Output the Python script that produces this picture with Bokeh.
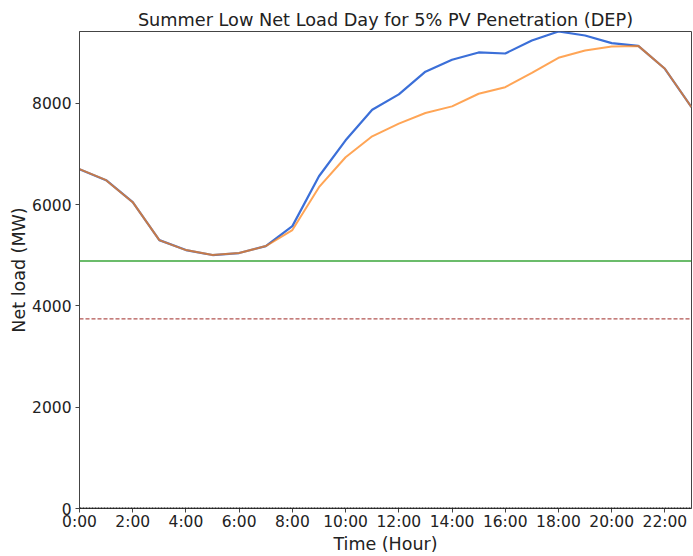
from bokeh.plotting import figure
from bokeh.models import FixedTicker, Range1d, Span
from bokeh.embed import file_html
from bokeh.resources import INLINE

hours = list(range(24))
net_load_base = [6700, 6483, 6049, 5300, 5103, 5005, 5044, 5182, 5576, 6561, 7271,
                 7875, 8177, 8625, 8860, 9005, 8985, 9241, 9419, 9340, 9190, 9135,
                 8683, 7925]
net_load_pv = [6700, 6483, 6049, 5300, 5103, 5005, 5044, 5182, 5498, 6345, 6936,
               7350, 7600, 7810, 7941, 8190, 8320, 8600, 8900, 9044, 9123, 9135,
               8683, 7925]
min_load_level = 4887
threshold_level = 3744
zero_level = 0
x_ticks = list(range(0, 24, 2))
x_labels = ["%d:00" % h for h in x_ticks]
y_ticks = [0, 2000, 4000, 6000, 8000]

FONT = "DejaVu Sans"

p = figure(width=693, height=556, output_backend="svg", toolbar_location=None,
           x_range=Range1d(0, 23), y_range=Range1d(0, max(net_load_base)),
           title="Summer Low Net Load Day for 5% PV Penetration (DEP)",
           min_border_left=79, min_border_right=2, min_border_top=31, min_border_bottom=2)

p.title.text_font = FONT
p.title.text_font_size = "17.7px"
p.title.text_font_style = "normal"
p.title.align = "center"
p.title.text_color = "#222222"
p.title.standoff = 4

p.line(hours, net_load_base, line_color="#3b6fd8", line_width=2.2)
p.line(hours, net_load_pv, line_color="#ff7f0e", line_alpha=0.7, line_width=2)

p.add_layout(Span(location=min_load_level, dimension="width", line_color="#2ca02c",
                  line_alpha=0.7, line_width=2))
p.add_layout(Span(location=threshold_level, dimension="width", line_color="#9e2a26",
                  line_width=1, line_dash="4 2"))
p.add_layout(Span(location=zero_level, dimension="width", line_color="black",
                  line_width=2, line_dash="2 1"))

p.xgrid.visible = False
p.ygrid.visible = False
p.outline_line_color = "#444444"
p.outline_line_width = 1

p.xaxis.ticker = FixedTicker(ticks=x_ticks)
p.xaxis.major_label_overrides = {t: l for t, l in zip(x_ticks, x_labels)}
p.yaxis.ticker = FixedTicker(ticks=y_ticks)
for ax in (p.xaxis, p.yaxis):
    ax.minor_tick_line_color = None
    ax.major_tick_in = 0
    ax.major_tick_out = 4
    ax.major_label_text_font = FONT
    ax.major_label_text_font_size = "15.5px"
    ax.major_label_text_color = "#222222"
    ax.axis_label_text_font = FONT
    ax.axis_label_text_font_size = "17.5px"
    ax.axis_label_text_font_style = "normal"
    ax.axis_label_text_color = "#222222"
    ax.axis_line_color = "#444444"
    ax.major_tick_line_color = "#444444"

p.xaxis.major_label_standoff = 0
p.xaxis.axis_label_standoff = 0
p.yaxis.major_label_standoff = 4
p.yaxis.axis_label_standoff = 0

p.xaxis.axis_label = "Time (Hour)"
p.yaxis.axis_label = "Net load (MW)"

open("out.html", "w").write(file_html(p, INLINE))
